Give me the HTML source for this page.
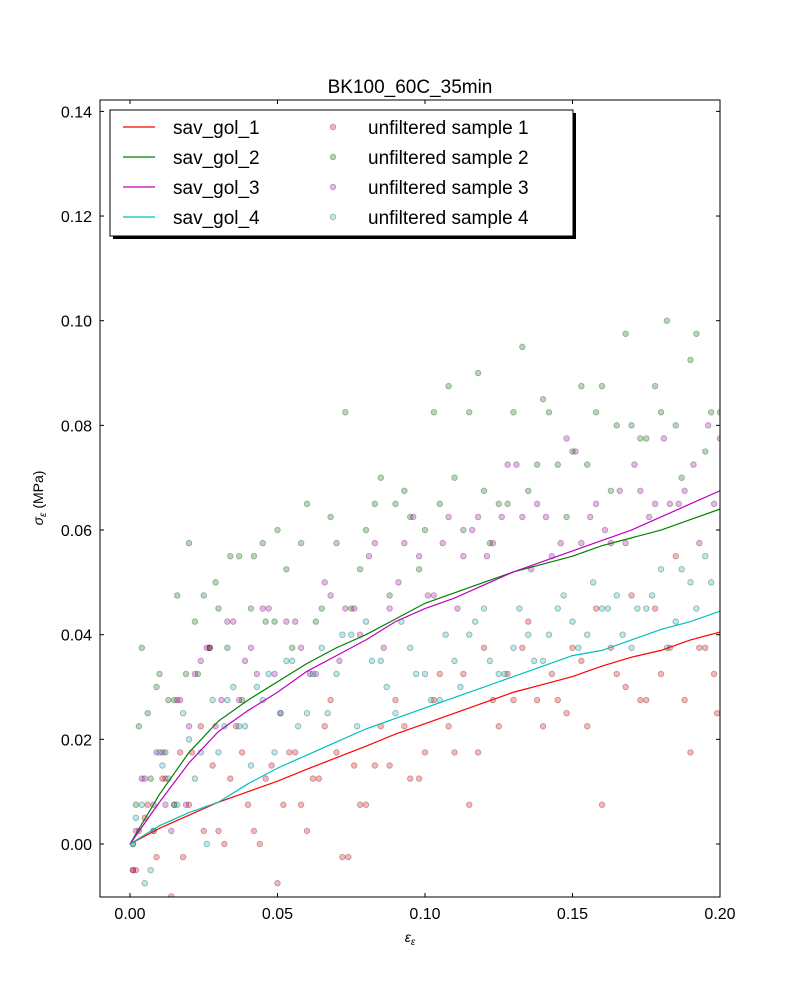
<!DOCTYPE html>
<html><head><meta charset="utf-8"><style>
body{margin:0;background:#fff;}
svg text{font-family:"Liberation Sans","DejaVu Sans",sans-serif;}
</style></head><body>
<svg id="chart" width="800" height="997" xmlns="http://www.w3.org/2000/svg">
<defs><clipPath id="plotclip"><rect x="100" y="100" width="620" height="797"/></clipPath>
<filter id="sh"><feOffset dx="3" dy="3"/></filter></defs>
<rect width="800" height="997" fill="#fff"/>
<text x="410" y="93" font-size="19" text-anchor="middle">BK100_60C_35min</text>
<g id="marks" clip-path="url(#plotclip)"></g>
<rect x="100" y="100" width="620" height="797" fill="none" stroke="#000" stroke-width="1"/>
<g id="axes"></g>
<text x="410" y="942" font-size="14" text-anchor="middle" font-style="italic">ε<tspan font-size="10" dy="3">ε</tspan></text>
<text transform="translate(43,498) rotate(-90)" font-size="14" text-anchor="middle"><tspan font-style="italic">σ</tspan><tspan font-size="10" dy="3" font-style="italic">ε</tspan><tspan dy="-3"> (MPa)</tspan></text>
<g>
<rect x="110" y="110" width="463" height="126" fill="#000" filter="url(#sh)"/>
<rect x="110" y="110" width="463" height="126" fill="#fff" stroke="#000" stroke-width="1"/>
<g id="legend-items"></g>
</g>
</svg>
<script>
const curveX=[0,.01,.02,.03,.04,.05,.06,.07,.08,.09,.10,.11,.12,.13,.14,.15,.16,.17,.18,.19,.20];
const sav1=[0,.003,.0055,.008,.010,.012,.0143,.0165,.0187,.021,.023,.025,.027,.029,.0305,.032,.034,.0357,.037,.039,.0405];
const sav2=[0,.0095,.0175,.0235,.0275,.031,.0345,.0375,.040,.043,.046,.048,.050,.052,.0535,.055,.057,.0585,.060,.062,.064];
const sav3=[0,.008,.0155,.0215,.0255,.029,.033,.036,.039,.0425,.045,.047,.0495,.052,.054,.056,.058,.060,.0625,.065,.0675];
const sav4=[0,.0035,.006,.008,.0115,.0145,.017,.0195,.022,.024,.026,.028,.030,.032,.034,.036,.037,.039,.041,.0425,.0445];
const s1x=[.001,.003,.006,.009,.012,.015,.018,.021,.025,.028,.032,.036,.040,.044,.048,.052,.056,.060,.064,.068,.072,.076,.080,.085,.090,.095,.100,.105,.110,.115,.120,.125,.130,.135,.140,.145,.150,.155,.160,.165,.170,.175,.180,.185,.190,.195,.199,
 .002,.005,.008,.011,.014,.017,.020,.024,.027,.030,.034,.038,.042,.046,.050,.054,.058,.062,.066,.070,.074,.078,.083,.088,.093,.098,.103,.108,.113,.118,.123,.128,.133,.138,.143,.148,.153,.158,.163,.168,.173,.178,.183,.188,.193,.198];
const s1y=[-.005,.0025,.0075,-.0025,.0125,.0075,-.0025,.0175,.0025,.015,0,.0225,.0075,0,.015,.0075,.0175,.0025,.0125,.0275,-.0025,.015,.0075,.0225,.0275,.0125,.0175,.0325,.0175,.0075,.0375,.0225,.0275,.0425,.0225,.0275,.0375,.0225,.0075,.0325,.0475,.0275,.0325,.055,.0175,.0375,.025,
 -.005,.005,.0025,.0125,-.01,.0175,.0075,.0225,.0375,.0025,.0125,.0175,.0025,.0125,-.0075,.0175,.0075,.0125,.0225,.0175,-.0025,.0075,.015,.015,.0225,.0125,.0275,.0225,.0325,.0175,.0275,.0325,.0375,.0275,.0325,.025,.035,.045,.0375,.03,.0275,.045,.0375,.0275,.0375,.0325];
const s2x=[.002,.004,.007,.010,.013,.016,.020,.023,.027,.030,.034,.038,.042,.046,.050,.055,.060,.065,.070,.073,.078,.083,.088,.093,.098,.103,.108,.113,.118,.122,.128,.133,.138,.142,.148,.153,.158,.163,.168,.173,.178,.182,.187,.192,.197,.2,
 .001,.003,.006,.009,.012,.015,.019,.022,.025,.029,.033,.037,.041,.045,.049,.053,.058,.063,.068,.075,.080,.085,.090,.095,.100,.105,.110,.115,.120,.125,.130,.135,.140,.145,.150,.155,.160,.165,.170,.175,.180,.185,.190,.195];
const s2y=[.0075,.0375,.0125,.0325,.0275,.0475,.0575,.0325,.0375,.045,.055,.0275,.055,.0425,.06,.0375,.065,.045,.0575,.0825,.0525,.065,.0475,.0675,.0525,.0825,.0875,.06,.09,.0575,.065,.095,.0725,.0825,.0625,.0875,.0825,.0675,.0975,.0775,.0875,.1,.07,.0975,.0825,.0825,
 0,.0225,.025,.03,.0175,.0275,.0325,.0425,.0475,.05,.0375,.055,.045,.0575,.0425,.0525,.0575,.0425,.0625,.045,.06,.07,.065,.0625,.06,.065,.07,.0825,.0675,.065,.0825,.0675,.085,.0725,.075,.0725,.0875,.08,.08,.0775,.0825,.08,.0925,.075];
const s3x=[.001,.004,.008,.011,.014,.017,.020,.024,.027,.031,.035,.039,.043,.047,.051,.056,.061,.066,.071,.076,.081,.086,.091,.096,.101,.106,.111,.116,.121,.126,.131,.136,.141,.146,.151,.156,.161,.166,.171,.176,.181,.186,.191,.196,.2,
 .002,.005,.009,.012,.016,.019,.022,.026,.029,.033,.037,.041,.045,.049,.053,.058,.063,.068,.073,.078,.083,.088,.093,.098,.103,.108,.113,.118,.123,.128,.133,.138,.143,.148,.153,.158,.163,.168,.173,.178,.183,.188,.193,.198];
const s3y=[-.005,.0125,.0075,.0175,.0025,.0275,.0225,.035,.0375,.0275,.0425,.035,.0325,.045,.025,.0425,.0325,.05,.035,.045,.055,.0375,.05,.0625,.0475,.0575,.045,.06,.055,.0625,.0725,.0525,.0625,.0575,.075,.0625,.06,.0675,.0725,.0625,.0775,.065,.0725,.08,.0775,
 .0025,.0125,.0175,.0075,.0275,.0075,.0325,.0375,.0225,.0425,.0275,.0375,.045,.0325,.0425,.0375,.0325,.0475,.045,.04,.0575,.045,.0575,.055,.0475,.0625,.055,.0625,.0575,.0725,.0625,.065,.055,.0775,.0575,.065,.0575,.0575,.0675,.065,.065,.0675,.0575,.065];
const s4x=[.002,.005,.008,.011,.015,.018,.022,.026,.030,.033,.037,.041,.045,.049,.053,.057,.062,.067,.072,.077,.082,.087,.092,.097,.102,.107,.112,.117,.122,.127,.132,.137,.142,.147,.152,.157,.162,.167,.172,.177,.182,.187,.192,.197,
 .001,.004,.007,.010,.013,.016,.020,.024,.028,.032,.035,.039,.043,.047,.051,.055,.060,.065,.070,.075,.080,.085,.090,.095,.100,.105,.110,.115,.120,.125,.130,.135,.140,.145,.150,.155,.160,.165,.170,.175,.180,.185,.190,.195];
const s4y=[.005,-.0075,.0025,.015,.0075,.025,.0125,0,.0175,.0275,.0225,.015,.0275,.0175,.035,.0225,.0325,.025,.04,.0225,.035,.03,.0425,.0325,.0275,.04,.03,.0425,.035,.0325,.045,.035,.04,.0475,.0375,.05,.045,.04,.045,.0475,.0375,.0525,.045,.05,
 0,.0075,-.005,.0175,.0125,.0075,.02,.0175,.0275,.0225,.03,.0225,.03,.0325,.025,.035,.025,.0375,.0325,.04,.0425,.035,.025,.0375,.0325,.0275,.035,.04,.045,.0325,.0375,.04,.035,.045,.0425,.04,.045,.0475,.0375,.045,.0525,.0425,.05,.055];
const xTicks=[0,.05,.10,.15,.20];
const xTickLabels=["0.00","0.05","0.10","0.15","0.20"];
const yTicks=[0,.02,.04,.06,.08,.10,.12,.14];
const yTickLabels=["0.00","0.02","0.04","0.06","0.08","0.10","0.12","0.14"];
const seriesNames=["sav_gol_1","sav_gol_2","sav_gol_3","sav_gol_4"];
const scatterNames=["unfiltered sample 1","unfiltered sample 2","unfiltered sample 3","unfiltered sample 4"];

const NS="http://www.w3.org/2000/svg";
const X=v=>130+(v-0)*2950;
const Y=v=>844-v*5233;
const colors=["#ff0000","#008000","#bf00bf","#00bfbf"];
const marks=document.getElementById('marks');
function mk(t,a,p){const e=document.createElementNS(NS,t);for(const k in a)e.setAttribute(k,a[k]);p.appendChild(e);return e;}
const sx=[s1x,s2x,s3x,s4x], sy=[s1y,s2y,s3y,s4y];
sx.forEach((xs,i)=>{xs.forEach((x,j)=>{
  const c=mk('circle',{cx:X(x),cy:Y(sy[i][j]),r:2.8,fill:colors[i],'fill-opacity':0.3,stroke:'#000','stroke-opacity':0.3,'stroke-width':0.8},marks);
  
  
});});
[sav1,sav2,sav3,sav4].forEach((ys,i)=>{
  const d=ys.map((y,j)=>(j?'L':'M')+X(curveX[j])+','+Y(y)).join('');
  const p=mk('path',{d:d,fill:'none',stroke:colors[i],'stroke-width':1.2},marks);
  
  
});
const axes=document.getElementById('axes');
xTicks.forEach((v,i)=>{
  mk('line',{x1:X(v),x2:X(v),y1:897,y2:893,stroke:'#000'},axes);
  mk('line',{x1:X(v),x2:X(v),y1:100,y2:104,stroke:'#000'},axes);
  const t=mk('text',{x:X(v),y:919,'font-size':16,'text-anchor':'middle'},axes);
  t.textContent=xTickLabels[i];
  
  
});
yTicks.forEach((v,i)=>{
  mk('line',{x1:100,x2:104,y1:Y(v),y2:Y(v),stroke:'#000'},axes);
  mk('line',{x1:720,x2:716,y1:Y(v),y2:Y(v),stroke:'#000'},axes);
  const t=mk('text',{x:92,y:Y(v)+6,'font-size':16,'text-anchor':'end'},axes);
  t.textContent=yTickLabels[i];
  
  
});
const lg=document.getElementById('legend-items');
seriesNames.forEach((n,i)=>{
  const y=127+i*30;
  mk('line',{x1:123,x2:155,y1:y,y2:y,stroke:colors[i],'stroke-width':1.2},lg);
  const t=mk('text',{x:173,y:y+7,'font-size':19},lg);t.textContent=n;
  
  
});
scatterNames.forEach((n,i)=>{
  const y=127+i*30;
  mk('circle',{cx:333,cy:y,r:2.8,fill:colors[i],'fill-opacity':0.3,stroke:'#000','stroke-opacity':0.3,'stroke-width':0.8},lg);
  const t=mk('text',{x:368,y:y+7,'font-size':19},lg);t.textContent=n;
  
  
});
</script>
</body></html>
